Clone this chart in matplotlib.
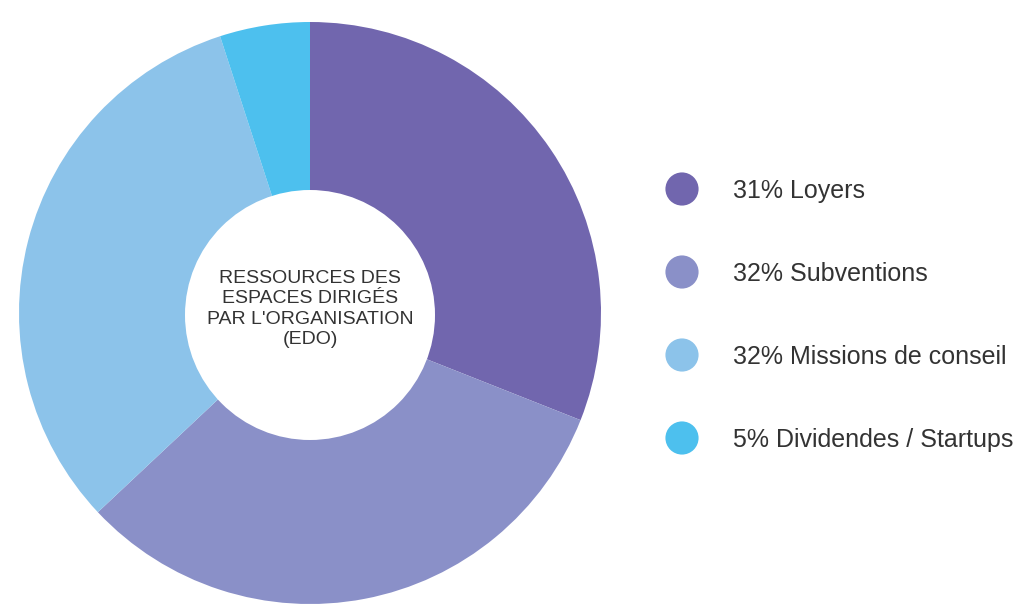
import matplotlib
matplotlib.use("Agg")
import matplotlib.pyplot as plt
from matplotlib.patches import Circle

labels = ["Loyers", "Subventions", "Missions de conseil", "Dividendes / Startups"]
values = [31, 32, 32, 5]
colors = ["#7166AE", "#8A90C8", "#8CC3EA", "#4DC0EE"]
center_text = "RESSOURCES DES\nESPACES DIRIGÉS\nPAR L'ORGANISATION\n(EDO)"

W, H = 1014, 607
fig = plt.figure(figsize=(W / 100, H / 100), dpi=100)
ax = fig.add_axes([0, 0, 1, 1])

cx, cy, r = 310, H - 313, 291
ax.pie(values, colors=colors, startangle=90, counterclock=False,
       center=(cx, cy), radius=r, frame=True,
       wedgeprops=dict(linewidth=0))
ax.set_xlim(0, W)
ax.set_ylim(0, H)
ax.set_aspect("equal")
ax.axis("off")

ax.add_patch(Circle((cx, H - 315), 125, facecolor="white", edgecolor="none", zorder=5))
ax.text(cx, H - 309, center_text, ha="center", va="center", fontsize=14,
        family="Liberation Sans", color="#333333", linespacing=1.25, zorder=6)

ys = [189, 272, 355, 438]
for lab, v, c, y in zip(labels, values, colors, ys):
    ax.scatter([682], [H - y], s=570, color=c, edgecolors="none", zorder=5)
    ax.text(733, H - y - 2, f"{v}% {lab}", ha="left", va="center", fontsize=18,
            family="Liberation Sans", color="#333333")

fig.savefig("out.png", dpi=100)
